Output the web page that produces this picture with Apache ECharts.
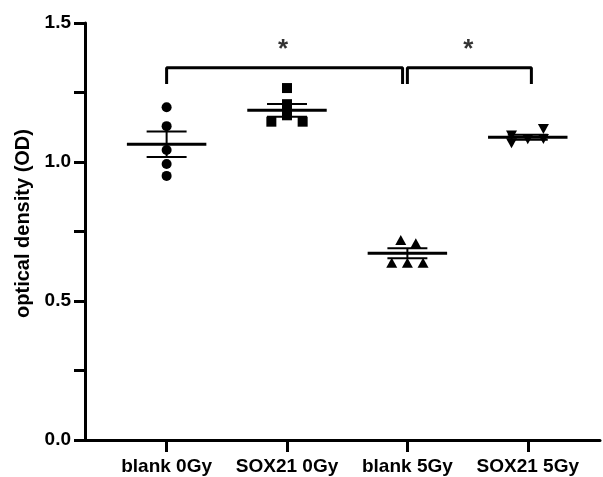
<!DOCTYPE html>
<html>
<head>
<meta charset="utf-8">
<script src="https://cdn.jsdelivr.net/npm/echarts@6/dist/echarts.min.js"></script>
<style>
  html, body { margin: 0; padding: 0; background: #fff; }
  #chart { width: 603px; height: 477px; }
</style>
</head>
<body>
<div id="chart"></div>
<script>
// groups on the x axis
const groups = ["blank 0Gy", "SOX21 0Gy", "blank 5Gy", "SOX21 5Gy"];

// individual OD readings
const blank0Gy = [1.197, 1.129, 1.043, 0.993, 0.950];
const sox21_0Gy = [1.266, 1.208, 1.168, 1.145, 1.145];
const blank5Gy = [0.719, 0.708, 0.638, 0.638, 0.638];
const sox21_5Gy = [1.095, 1.067, 1.082, 1.119, 1.083];

// horizontal scatter of the points around each group
const jitter0 = [0, 0, 0, 0, 0];
const jitter1 = [0, 0, 0, -0.13, 0.13];
const jitter2 = [-0.055, 0.07, -0.13, 0, 0.13];
const jitter3 = [-0.135, -0.135, 0, 0.13, 0.13];

// mean and SEM per group
const means = [1.064, 1.186, 0.672, 1.089];
const sems = [0.046, 0.023, 0.018, 0.009];

// significance brackets: [from, to]
const brackets = [[1, 2.96], [3.0, 4.03]];
const bracketTop = 1.339;
const bracketBottom = 1.281;
const starX = [1.968, 3.506];
const starY = 1.405;

const yTicks = [0, 0.5, 1.0, 1.5];

const FONT = "Liberation Sans, Arial, sans-serif";

function pts(values, jitter, pos) {
    return values.map((v, i) => [pos + jitter[i], v]);
}

const chart = echarts.init(document.getElementById("chart"));

const pointSeries = [
    { data: pts(blank0Gy, jitter0, 1), symbol: "circle", symbolSize: 10, rotate: 0 },
    { data: pts(sox21_0Gy, jitter1, 2), symbol: "rect", symbolSize: 10, rotate: 0 },
    { data: pts(blank5Gy, jitter2, 3), symbol: "triangle", symbolSize: [11, 10], rotate: 0 },
    { data: pts(sox21_5Gy, jitter3, 4), symbol: "triangle", symbolSize: [11, 10], rotate: 180 },
].map((s) => ({
    type: "scatter",
    data: s.data,
    symbol: s.symbol,
    symbolSize: s.symbolSize,
    symbolRotate: s.rotate,
    itemStyle: { color: "#000", opacity: 1 },
    silent: true,
    z: 3,
}));

const bracketSeries = brackets.map((b) => ({
    type: "line",
    data: [[b[0], bracketBottom], [b[0], bracketTop], [b[1], bracketTop], [b[1], bracketBottom]],
    showSymbol: false,
    lineStyle: { color: "#000", width: 3 },
    silent: true,
    z: 4,
}));

const option = {
    animation: false,
    grid: { left: 85, right: 3, top: 23, bottom: 37 },
    xAxis: {
        type: "value",
        min: 0.322,
        max: 4.6,
        splitLine: { show: false },
        axisLine: { show: true, onZero: false, lineStyle: { color: "#000", width: 3 } },
        axisTick: {
            show: true,
            length: 12,
            customValues: [1, 2, 3, 4],
            lineStyle: { color: "#000", width: 3 },
        },
        axisLabel: {
            customValues: [1, 2, 3, 4],
            formatter: (v) => groups[Math.round(v) - 1] || "",
            color: "#000",
            fontFamily: FONT,
            fontWeight: "bold",
            fontSize: 19,
            margin: 17,
        },
    },
    yAxis: {
        type: "value",
        min: 0,
        max: 1.5,
        interval: 0.25,
        name: "optical density (OD)",
        nameLocation: "middle",
        nameGap: 52,
        nameTextStyle: {
            color: "#000",
            fontFamily: FONT,
            fontWeight: "bold",
            fontSize: 20,
            padding: [0, 0, 0, 16],
        },
        splitLine: { show: false },
        axisLine: { show: true, lineStyle: { color: "#000", width: 3 } },
        axisTick: { show: true, length: 11, lineStyle: { color: "#000", width: 3 } },
        axisLabel: {
            formatter: (v) => (yTicks.some((t) => Math.abs(t - v) < 1e-6) ? v.toFixed(1) : ""),
            color: "#000",
            fontFamily: FONT,
            fontWeight: "bold",
            fontSize: 19,
            margin: 14,
        },
    },
    series: [
        ...pointSeries,
        {
            type: "custom",
            data: means.map((m, i) => [i + 1, m, sems[i]]),
            silent: true,
            z: 4,
            renderItem: function (params, api) {
                const x = api.value(0);
                const m = api.value(1);
                const s = api.value(2);
                const l = api.coord([x - 0.33, m]);
                const r = api.coord([x + 0.33, m]);
                const top = api.coord([x, m + s]);
                const bot = api.coord([x, m - s]);
                const capL = api.coord([x - 0.166, m])[0];
                const capR = api.coord([x + 0.166, m])[0];
                const st = { stroke: "#000", lineWidth: 2, fill: null };
                return {
                    type: "group",
                    children: [
                        { type: "line", shape: { x1: l[0], y1: l[1], x2: r[0], y2: r[1] }, style: { stroke: "#000", lineWidth: 3 } },
                        { type: "line", shape: { x1: top[0], y1: top[1], x2: bot[0], y2: bot[1] }, style: st },
                        { type: "line", shape: { x1: capL, y1: top[1], x2: capR, y2: top[1] }, style: st },
                        { type: "line", shape: { x1: capL, y1: bot[1], x2: capR, y2: bot[1] }, style: st },
                    ],
                };
            },
        },
        ...bracketSeries,
        {
            type: "scatter",
            data: starX.map((x) => [x, starY]),
            symbolSize: 0,
            silent: true,
            label: {
                show: true,
                position: "inside",
                formatter: "*",
                color: "#000",
                fontFamily: FONT,
                fontWeight: "bold",
                fontSize: 26,
            },
        },
    ],
};

chart.setOption(option);
</script>
</body>
</html>
